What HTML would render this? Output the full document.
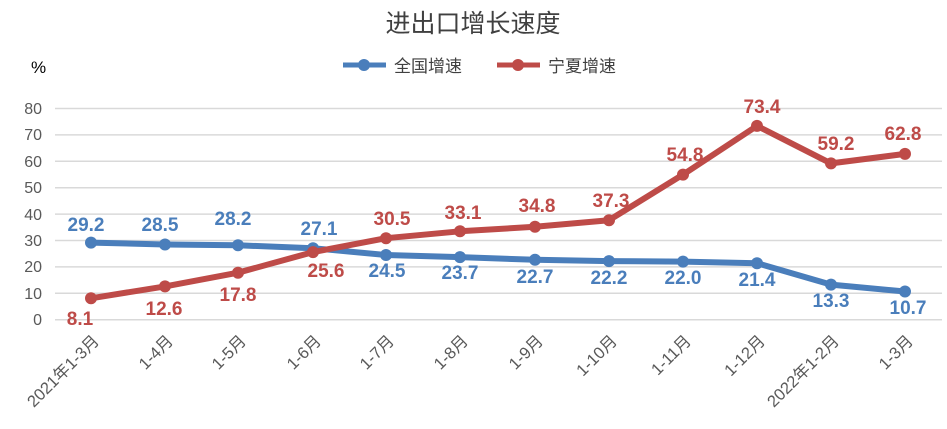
<!DOCTYPE html>
<html><head><meta charset="utf-8"><style>
html,body{margin:0;padding:0;background:#fff;}
svg{display:block;font-family:"Liberation Sans","Noto Sans CJK SC",sans-serif;}
</style></head><body>
<svg width="947" height="429" viewBox="0 0 947 429">
<text x="473" y="32" text-anchor="middle" font-size="25" fill="#404040">进出口增长速度</text>
<text x="31" y="73" font-size="17" fill="#000">%</text>
<line x1="343" y1="65" x2="386" y2="65" stroke="#4a7ebb" stroke-width="5"/>
<circle cx="364" cy="65" r="6" fill="#4a7ebb"/>
<text x="394" y="72" font-size="17" fill="#404040">全国增速</text>
<line x1="497" y1="65" x2="540" y2="65" stroke="#be4b48" stroke-width="5"/>
<circle cx="518" cy="65" r="6" fill="#be4b48"/>
<text x="548" y="72" font-size="17" fill="#404040">宁夏增速</text>
<g stroke="#d9d9d9" stroke-width="1.5">
<line x1="55" x2="942" y1="108.5" y2="108.5"/><line x1="55" x2="942" y1="134.9" y2="134.9"/>
<line x1="55" x2="942" y1="161.3" y2="161.3"/><line x1="55" x2="942" y1="187.7" y2="187.7"/>
<line x1="55" x2="942" y1="214.1" y2="214.1"/><line x1="55" x2="942" y1="240.5" y2="240.5"/>
<line x1="55" x2="942" y1="266.9" y2="266.9"/><line x1="55" x2="942" y1="293.3" y2="293.3"/>
<line x1="55" x2="942" y1="319.7" y2="319.7"/>
</g>
<g font-size="16" fill="#595959" text-anchor="end">
<text x="42" y="114">80</text><text x="42" y="140">70</text><text x="42" y="167">60</text>
<text x="42" y="193">50</text><text x="42" y="220">40</text><text x="42" y="246">30</text>
<text x="42" y="272">20</text><text x="42" y="299">10</text><text x="42" y="325">0</text>
</g>
<g font-size="16.5" fill="#595959" text-anchor="end">
<text transform="translate(100,342) rotate(-45)">2021年1-3月</text>
<text transform="translate(174,342) rotate(-45)">1-4月</text>
<text transform="translate(247,342) rotate(-45)">1-5月</text>
<text transform="translate(322,342) rotate(-45)">1-6月</text>
<text transform="translate(395,342) rotate(-45)">1-7月</text>
<text transform="translate(469,342) rotate(-45)">1-8月</text>
<text transform="translate(544,342) rotate(-45)">1-9月</text>
<text transform="translate(618,342) rotate(-45)">1-10月</text>
<text transform="translate(692,342) rotate(-45)">1-11月</text>
<text transform="translate(766,342) rotate(-45)">1-12月</text>
<text transform="translate(840,342) rotate(-45)">2022年1-2月</text>
<text transform="translate(914,342) rotate(-45)">1-3月</text>
</g>
<polyline fill="none" stroke="#4a7ebb" stroke-width="6" stroke-linejoin="round" points="91,242.6 165,244.5 238,245.3 313,248.2 386,255.0 460,257.1 535,259.8 609,261.1 683,261.6 757,263.2 831,284.6 905,291.5"/>
<g fill="#4a7ebb">
<circle cx="91" cy="242.6" r="6"/><circle cx="165" cy="244.5" r="6"/><circle cx="238" cy="245.3" r="6"/><circle cx="313" cy="248.2" r="6"/><circle cx="386" cy="255.0" r="6"/><circle cx="460" cy="257.1" r="6"/><circle cx="535" cy="259.8" r="6"/><circle cx="609" cy="261.1" r="6"/><circle cx="683" cy="261.6" r="6"/><circle cx="757" cy="263.2" r="6"/><circle cx="831" cy="284.6" r="6"/><circle cx="905" cy="291.5" r="6"/>
</g>
<polyline fill="none" stroke="#be4b48" stroke-width="6" stroke-linejoin="round" points="91,298.3 165,286.4 238,272.7 313,252.1 386,238.2 460,231.3 535,226.8 609,220.2 683,174.6 757,125.9 831,163.4 905,153.9"/>
<g fill="#be4b48">
<circle cx="91" cy="298.3" r="6"/><circle cx="165" cy="286.4" r="6"/><circle cx="238" cy="272.7" r="6"/><circle cx="313" cy="252.1" r="6"/><circle cx="386" cy="238.2" r="6"/><circle cx="460" cy="231.3" r="6"/><circle cx="535" cy="226.8" r="6"/><circle cx="609" cy="220.2" r="6"/><circle cx="683" cy="174.6" r="6"/><circle cx="757" cy="125.9" r="6"/><circle cx="831" cy="163.4" r="6"/><circle cx="905" cy="153.9" r="6"/>
</g>
<g font-size="19" font-weight="bold" fill="#4a7ebb" text-anchor="middle">
<text x="86" y="231">29.2</text><text x="160" y="231">28.5</text><text x="233" y="225">28.2</text><text x="319" y="235">27.1</text>
<text x="387" y="277">24.5</text><text x="460" y="279">23.7</text><text x="535" y="283">22.7</text><text x="609" y="284">22.2</text>
<text x="683" y="284">22.0</text><text x="757" y="286">21.4</text><text x="831" y="307">13.3</text><text x="908" y="314">10.7</text>
</g>
<g font-size="19" font-weight="bold" fill="#be4b48" text-anchor="middle">
<text x="80" y="325">8.1</text><text x="164" y="315">12.6</text><text x="238" y="301">17.8</text><text x="326" y="277">25.6</text>
<text x="392" y="225">30.5</text><text x="463" y="219">33.1</text><text x="537" y="212">34.8</text><text x="611" y="207">37.3</text>
<text x="685" y="161">54.8</text><text x="762" y="113">73.4</text><text x="836" y="150">59.2</text><text x="903" y="140">62.8</text>
</g>
</svg>
</body></html>
